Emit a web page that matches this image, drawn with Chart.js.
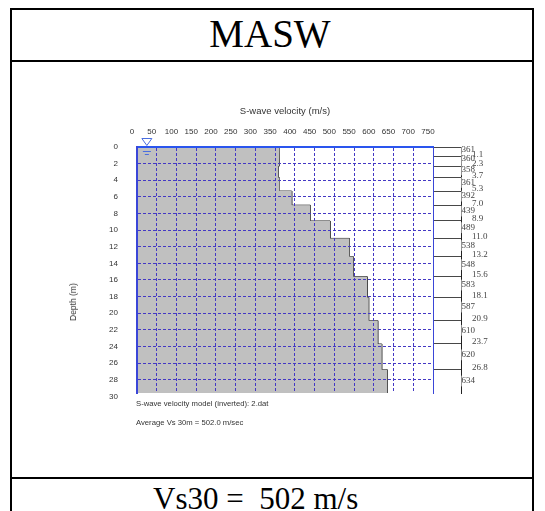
<!DOCTYPE html>
<html>
<head>
<meta charset="utf-8">
<title>MASW</title>
<script src="https://cdn.jsdelivr.net/npm/chart.js@4/dist/chart.umd.min.js"></script>
<style>
  html, body { margin: 0; padding: 0; background: #fff; width: 545px; height: 511px; overflow: hidden; }
  .hline { position: absolute; left: 10px; width: 524px; height: 2px; background: #000; }
  .vline { position: absolute; top: 8px; width: 2px; height: 520px; background: #000; }
  .serif { position: absolute; font-family: 'Liberation Serif', 'Times New Roman', serif; color: #000; white-space: pre; }
  .note { position: absolute; font-family: 'Liberation Sans', Arial, sans-serif; color: #333; white-space: pre; }
  #wrap { position: absolute; left: 12px; top: 62px; width: 520px; height: 415px; }
</style>
</head>
<body>
  <div class="hline" style="top:8px"></div>
  <div class="hline" style="top:60px"></div>
  <div class="hline" style="top:477px"></div>
  <div class="vline" style="left:10px"></div>
  <div class="vline" style="left:532px"></div>

  <div class="serif" style="left:10px;width:520px;text-align:center;top:14px;font-size:39px;line-height:39px;">MASW</div>

  <div id="wrap"><canvas id="c" width="520" height="415"></canvas></div>

  <div class="note" style="top:302px;font-size:8.5px;line-height:10px;transform:translate(-50%,-50%) rotate(-90deg);left:73px;">Depth (m)</div>
  <div class="note" style="left:136px;top:399px;font-size:7.7px;line-height:10px;">S-wave velocity model (inverted): 2.dat</div>
  <div class="note" style="left:136px;top:418px;font-size:7.7px;line-height:10px;">Average Vs 30m = 502.0 m/sec</div>

  <div class="serif" style="left:153px;top:483px;font-size:31px;line-height:31px;">Vs30 =  502 m/s</div>

<script>
// Layered shear-wave velocity model (depth in m, Vs in m/s)
const velocityTicks = [0, 50, 100, 150, 200, 250, 300, 350, 400, 450, 500, 550, 600, 650, 700, 750];
const depthTicks = [0, 2, 4, 6, 8, 10, 12, 14, 16, 18, 20, 22, 24, 26, 28, 30];
const layerTop = [0, 1.1, 2.3, 3.7, 5.3, 7.0, 8.9, 11.0, 13.2, 15.6, 18.1, 20.9, 23.7, 26.8];
const layerVs = [361, 360, 358, 361, 392, 439, 489, 538, 548, 583, 587, 610, 620, 634];
const modelBase = 30;      // half-space continues to 30 m
const depthShown = 29.6;   // visible depth window
const waterTable = [25, 0]; // water-table symbol: [velocity axis position, depth]

const layerBottom = layerTop.slice(1).concat(modelBase);
const boundaries = layerTop.slice(1);
const layerMid = layerTop.map((t, i) => (t + layerBottom[i]) / 2);

// stepped profile: each layer is a vertical segment at its velocity
const outline = [];
layerVs.forEach((v, i) => {
  outline.push({ x: v, y: layerTop[i] }, { x: v, y: layerBottom[i] });
});
const shape = [{ x: 0, y: 0 }, ...outline, { x: 0, y: modelBase }];

const GRID = '#4438c4';
const BLUE = '#2a55ee';
const sans = "'Liberation Sans', Arial, sans-serif";
const serif = "'Liberation Serif', 'Times New Roman', serif";

// no dashed line on the frame edges or past the visible range
const gridColor = (ctx) => {
  const s = ctx.scale;
  const v = ctx.tick && ctx.tick.value;
  return (v <= s.min || v >= s.max) ? 'rgba(0,0,0,0)' : GRID;
};

const depthAxis = (extra) => Object.assign({
  type: 'linear', reverse: true, min: 0, max: depthShown
}, extra);

const waterTableMark = {
  id: 'waterTableMark',
  afterDraw(chart) {
    const { ctx, scales } = chart;
    const px = scales.x.getPixelForValue(waterTable[0]);
    const py = scales.y.getPixelForValue(waterTable[1]);
    ctx.save();
    ctx.strokeStyle = '#4a6ee0';
    ctx.lineWidth = 1;
    ctx.beginPath();
    ctx.moveTo(px - 5, py - 8.5);
    ctx.lineTo(px + 5, py - 8.5);
    ctx.lineTo(px, py - 1.5);
    ctx.closePath();
    ctx.stroke();
    ctx.beginPath();
    ctx.moveTo(px - 4, py + 4.5); ctx.lineTo(px + 4, py + 4.5);
    ctx.moveTo(px - 2, py + 7.5); ctx.lineTo(px + 2, py + 7.5);
    ctx.stroke();
    ctx.restore();
  }
};

new Chart(document.getElementById('c'), {
  type: 'scatter',
  data: {
    datasets: [
      {
        data: shape, showLine: true, fill: 'shape',
        backgroundColor: '#c0c0c0', borderWidth: 0, pointRadius: 0
      },
      {
        data: outline, showLine: true, fill: false,
        borderColor: '#2e2e2e', borderWidth: 1, pointRadius: 0
      }
    ]
  },
  options: {
    responsive: false,
    devicePixelRatio: 1,
    animation: false,
    layout: { padding: { left: 0, top: 0, right: 41, bottom: 84 } },
    plugins: { legend: { display: false }, tooltip: { enabled: false } },
    scales: {
      x: {
        type: 'linear', position: 'top', min: 0, max: 750,
        afterBuildTicks: s => { s.ticks = velocityTicks.map(v => ({ value: v })); },
        afterFit: s => { s.height = 85; },
        ticks: { autoSkip: false, maxRotation: 0, padding: 10, labelOffset: -5, color: '#333', font: { family: sans, size: 8 } },
        grid: { z: 1, drawTicks: false, color: gridColor, lineWidth: 1 },
        border: { z: 2, display: true, color: BLUE, width: 2, dash: [3, 2] },
        title: { display: true, text: 'S-wave velocity (m/s)', color: '#333', font: { family: sans, size: 9.5 }, padding: { top: 44, bottom: 0 } }
      },
      y: depthAxis({
        position: 'left',
        afterBuildTicks: s => { s.ticks = depthTicks.map(v => ({ value: v })); },
        afterFit: s => { s.width = 125; },
        ticks: { autoSkip: false, padding: 19, color: '#333', font: { family: sans, size: 8 } },
        grid: { z: 1, drawTicks: false, color: gridColor, lineWidth: 1 },
        border: { z: 2, display: true, color: '#3a46d8', width: 2, dash: [3, 2] }
      }),
      // boundary lines between the plot and the layer column
      yb: depthAxis({
        position: 'right', weight: 0,
        afterBuildTicks: s => { s.ticks = [0].concat(boundaries).map(v => ({ value: v })); },
        afterFit: s => { s.width = 28; },
        ticks: { display: false },
        grid: { drawOnChartArea: false, drawTicks: true, tickLength: 28, color: '#474747', lineWidth: 1 },
        border: { z: 2, display: true, color: '#3a46d8', width: 1 }
      }),
      // layer velocities, written inside the column
      yv: depthAxis({
        position: 'right', weight: 1,
        afterBuildTicks: s => { s.ticks = layerMid.map(v => ({ value: v })); },
        afterFit: s => { s.width = 0; },
        ticks: {
          autoSkip: false, mirror: true, crossAlign: 'near', padding: 14, labelOffset: -2,
          color: '#444', font: { family: serif, size: 9 },
          showLabelBackdrop: true, backdropColor: '#fff', backdropPadding: 0,
          callback: (val, i) => String(layerVs[i])
        },
        grid: { display: false },
        border: { display: true, color: '#222', width: 1 }
      }),
      // depth of each layer boundary
      yd: depthAxis({
        position: 'right', weight: 2,
        afterBuildTicks: s => { s.ticks = boundaries.map(v => ({ value: v })); },
        afterFit: s => { s.width = 30; },
        ticks: {
          autoSkip: false, padding: 3, labelOffset: -2,
          color: '#444', font: { family: serif, size: 9 },
          callback: (val, i) => boundaries[i].toFixed(1)
        },
        grid: { display: false },
        border: { display: false }
      })
    }
  },
  plugins: [waterTableMark]
});
</script>
</body>
</html>
